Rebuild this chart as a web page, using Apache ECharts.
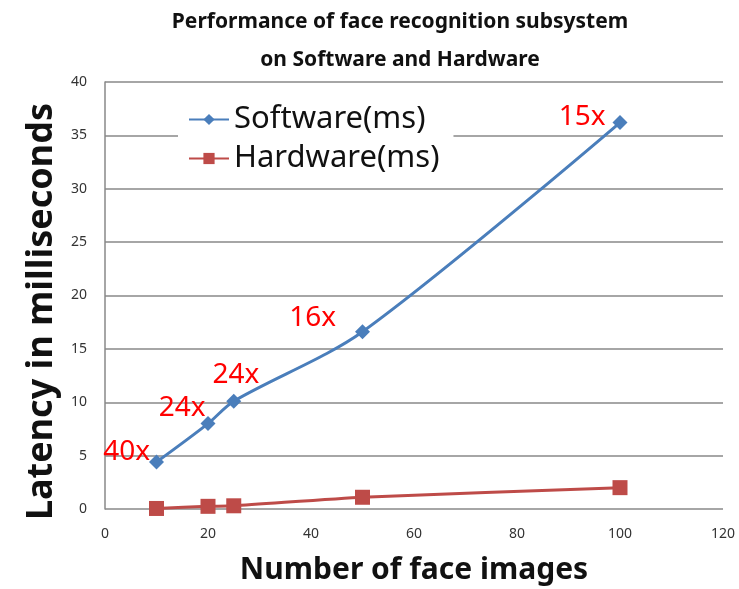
<!DOCTYPE html>
<html>
<head>
<meta charset="utf-8">
<script src="https://cdn.jsdelivr.net/npm/echarts@6/dist/echarts.min.js"></script>
<style>
  html, body { margin:0; padding:0; background:#fff; }
  #chart { width:739px; height:589px; }
</style>
</head>
<body>
<div id="chart"></div>
<script>
// data
const faceCounts = [10, 20, 25, 50, 100];
const softwareMs = [4.4, 8.0, 10.1, 16.6, 36.2];
const hardwareMs = [0.05, 0.25, 0.3, 1.1, 2.0];
const speedups = ["40x", "24x", "24x", "16x", "15x"];
// label offsets per point (px), only for placing the red text
const labelOffsets = [[6, -10], [10, -16], [38, -26], [-14, -14], [-2, -6]];

const myChart = echarts.init(document.getElementById("chart"));

const font = "'Noto Sans', 'Open Sans', sans-serif";

const swData = faceCounts.map((x, i) => ({
  value: [x, softwareMs[i]],
  label: {
    show: true, position: "left", formatter: speedups[i],
    offset: labelOffsets[i], color: "#ff0000", fontSize: 28, fontFamily: font
  }
}));
const hwData = faceCounts.map((x, i) => [x, hardwareMs[i]]);

myChart.setOption({
  animation: false,
  title: {
    text: "Performance of face recognition subsystem\non Software and Hardware",
    left: 395, top: -2, textAlign: "center",
    textStyle: { fontSize: 21, fontWeight: "bold", fontFamily: font, color: "#111", lineHeight: 38 }
  },
  legend: {
    orient: "vertical", left: 178, top: 100,
    backgroundColor: "#fff", padding: [4, 14, 6, 10],
    itemWidth: 40, itemHeight: 14, itemGap: 8,
    textStyle: { fontSize: 31, fontFamily: font, color: "#111" },
    data: ["Software(ms)", "Hardware(ms)"]
  },
  grid: { left: 105, right: 16, top: 82, bottom: 80, outerBoundsMode: "none", containLabel: false },
  xAxis: {
    type: "value", min: 0, max: 120, interval: 20,
    name: "Number of face images", nameLocation: "middle", nameGap: 46,
    nameTextStyle: { fontSize: 30, fontWeight: "bold", fontFamily: font, color: "#111" },
    axisLine: { show: false },
    axisTick: { show: false },
    splitLine: { show: false },
    axisLabel: { fontSize: 14, color: "#333", fontFamily: font, margin: 18 }
  },
  yAxis: {
    type: "value", min: 0, max: 40, interval: 5,
    name: "Latency in milliseconds", nameLocation: "middle", nameGap: 44,
    nameTextStyle: { fontSize: 36, fontWeight: "bold", fontFamily: font, color: "#111", padding: [0, 32, 0, 0] },
    axisLine: { show: true, lineStyle: { color: "#888", width: 1.5 } },
    axisTick: { show: false },
    splitLine: { lineStyle: { color: "#888", width: 1.5 } },
    axisLabel: { fontSize: 14, color: "#333", fontFamily: font, margin: 18 }
  },
  series: [
    {
      name: "Software(ms)", type: "line", data: swData, smooth: 0.3,
      symbol: "diamond", symbolSize: 15,
      lineStyle: { color: "#4a7ebb", width: 3 },
      itemStyle: { color: "#4a7ebb" }
    },
    {
      name: "Hardware(ms)", type: "line", data: hwData, smooth: 0.2,
      symbol: "rect", symbolSize: 15,
      lineStyle: { color: "#be4b48", width: 3 },
      itemStyle: { color: "#be4b48" }
    }
  ]
});
</script>
</body>
</html>
